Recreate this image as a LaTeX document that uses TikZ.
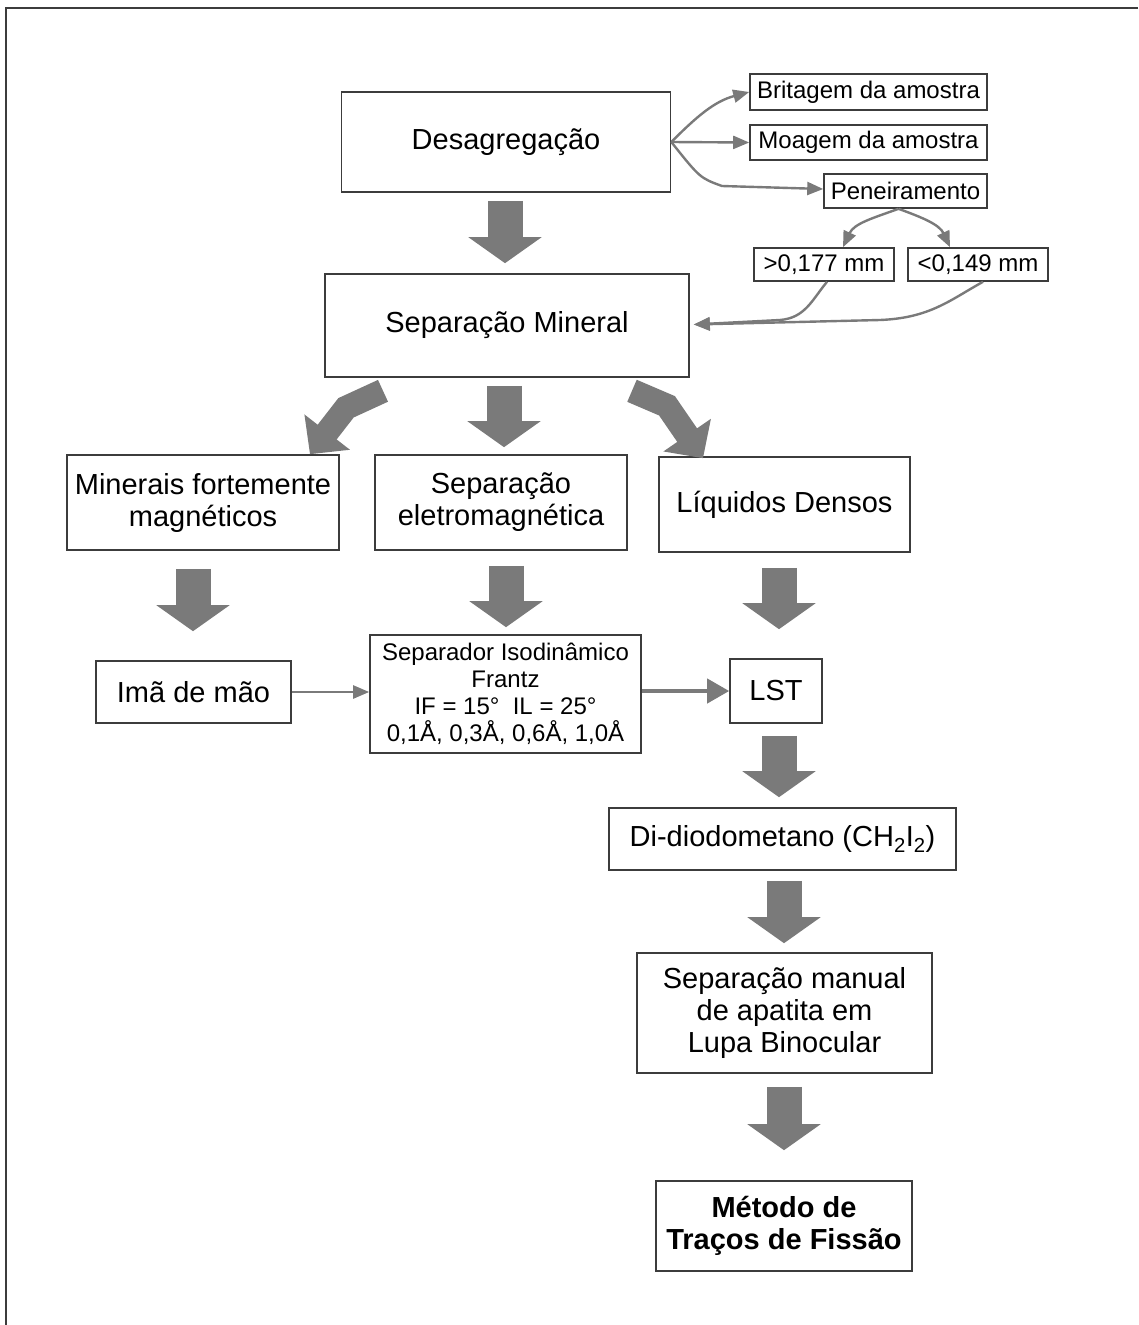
\documentclass[tikz,border=0pt]{standalone}
\usepackage{fontspec}
\setmainfont{Liberation Sans}
\usetikzlibrary{arrows.meta}

\definecolor{boxline}{HTML}{3C3C3C}
\definecolor{arrowgray}{HTML}{7A7A7A}

\begin{document}
\begin{tikzpicture}[x=1pt, y=-1pt,
  every node/.style={text=black},
  box/.style={draw=boxline, line width=1.6pt, align=center, inner sep=0pt,
    font=\fontsize{29}{32}\selectfont},
  smallbox/.style={box, font=\fontsize{24}{27}\selectfont},
  bigarrow/.style={draw=arrowgray, line width=35pt,
    -{Triangle[length=26pt, width=72pt]}},
  bentarrow/.style={draw=arrowgray, line width=24pt, line join=miter,
    -{Triangle[length=28pt, width=56pt]}},
  thinarrow/.style={draw=arrowgray, line width=2.4pt,
    -{Triangle[length=16pt, width=13pt]}}]
% Page and frame
\useasboundingbox (0,0) rectangle (1138,1325);
\draw[boxline, line width=2pt] (1138,8) -- (6,8) -- (6,1325);

% Top: disaggregation and sieving
\node[box, minimum width=329, minimum height=100] (desag) at (506,142) {Desagregação};
\node[smallbox, minimum width=237, minimum height=36] (brit) at (868.5,92) {Britagem da amostra};
\node[smallbox, minimum width=237, minimum height=35] (moag) at (868.5,142.5) {Moagem da amostra};
\node[smallbox, minimum width=163, minimum height=34] (pen) at (905.5,191) {Peneiramento};
\node[smallbox, minimum width=140, minimum height=33] (gt) at (824,264.5) {>0,177 mm};
\node[smallbox, minimum width=140, minimum height=33] (lt) at (978,264.5) {<0,149 mm};
\node[box, minimum width=364, minimum height=103] (sepmin) at (507,325.5) {Separação Mineral};

% Three branches
\node[box, minimum width=272, minimum height=95] (minerais) at (203,502.5) {Minerais fortemente\\magnéticos};
\node[box, minimum width=252, minimum height=95] (eletro) at (501,502.5) {Separação\\eletromagnética};
\node[box, minimum width=251, minimum height=95] (liq) at (784.5,504.5) {Líquidos Densos};

\node[box, minimum width=195, minimum height=62] (ima) at (193.5,692) {Imã de mão};
\node[smallbox, minimum width=271, minimum height=118] (frantz) at (505.5,694)
  {Separador Isodinâmico\\Frantz\\IF = 15°\ \ IL = 25°\\0,1Å, 0,3Å, 0,6Å, 1,0Å};
\node[box, minimum width=92, minimum height=64] (lst) at (776,691) {LST};

% Right column down to the method
\node[box, minimum width=347, minimum height=62] (didi) at (782.5,839) {Di-diodometano (CH\textsubscript{2}I\textsubscript{2})};
\node[box, minimum width=295, minimum height=120] (manual) at (784.5,1013) {Separação manual\\de apatita em\\Lupa Binocular};
\node[box, minimum width=256, minimum height=90, font=\fontsize{29}{32}\selectfont\bfseries] (metodo) at (784,1226) {Método de\\Traços de Fissão};

% Thin connectors
\draw[thinarrow] (desag.east) to[out=45, in=195] (brit.west);
\draw[thinarrow] (desag.east) -- (moag.west);
\draw[thinarrow] (desag.east) .. controls (700,178) .. (722,186) -- ([yshift=2]pen.west);
\draw[thinarrow] ([xshift=-7]pen.south) to[out=200, in=65] ([xshift=19]gt.north);
\draw[thinarrow] ([xshift=-7]pen.south) to[out=-20, in=115] ([xshift=-28]lt.north);
\draw[thinarrow] ([xshift=3]gt.south) .. controls (812,300) and (805,318) .. (780,320) -- ([xshift=4,yshift=1]sepmin.east);
\draw[thinarrow] ([xshift=5]lt.south) .. controls (950,300) and (930,318) .. (880,320) -- ([xshift=4,yshift=1]sepmin.east);
\draw[thinarrow] (ima.east) -- (ima.east -| frantz.west);
\draw[draw=arrowgray, line width=4pt, -{Triangle[length=22pt, width=24pt]}] (frantz.east |- lst.west) -- (lst.west);

% Block arrows
\draw[bigarrow] ([xshift=-1,yshift=-8]desag.south) -- ([xshift=-2,yshift=10]sepmin.north);
\draw[bigarrow] ([xshift=-3,yshift=-8]sepmin.south) -- ([xshift=3,yshift=7]eletro.north);
\draw[bentarrow] ([xshift=-124,yshift=-13]sepmin.south) -- ++(-37,17) -- ([xshift=107]minerais.north);
\draw[bentarrow] ([xshift=125,yshift=-13]sepmin.south) -- ++(35,15) -- ([xshift=-81.5,yshift=-2]liq.north);
\draw[bigarrow] ([xshift=-10,yshift=-18]minerais.south) -- ([xshift=-0.5,yshift=29]ima.north);
\draw[bigarrow] ([xshift=5,yshift=-15]eletro.south) -- ([xshift=0.5,yshift=7]frantz.north);
\draw[bigarrow] ([xshift=-5.5,yshift=-15]liq.south) -- ([xshift=3,yshift=29]lst.north);
\draw[bigarrow] ([xshift=3,yshift=-12]lst.south) -- ([xshift=-3.5,yshift=10]didi.north);
\draw[bigarrow] ([xshift=1.5,yshift=-10]didi.south) -- ([xshift=-0.5,yshift=9]manual.north);
\draw[bigarrow] ([xshift=-0.5,yshift=-13]manual.south) -- ([yshift=30]metodo.north);
\end{tikzpicture}
\end{document}
